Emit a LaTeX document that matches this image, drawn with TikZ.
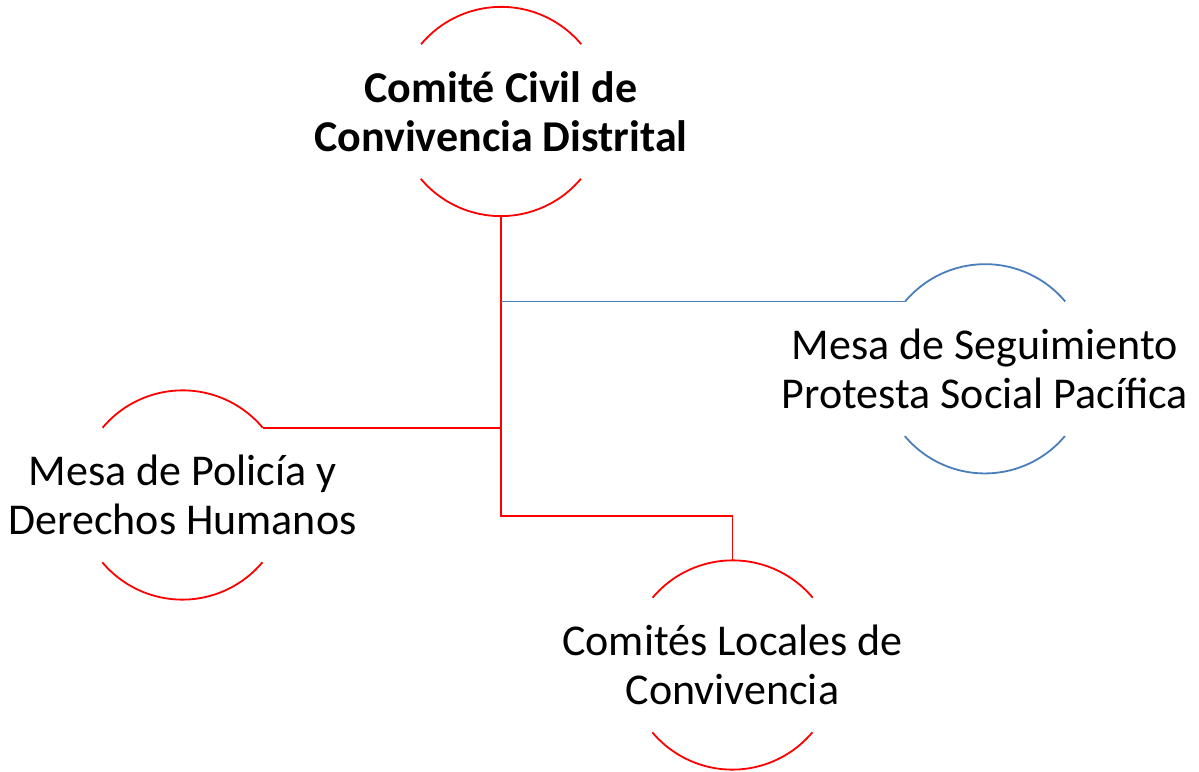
\documentclass[tikz,border=0pt]{standalone}
\usepackage{fontspec}
\setmainfont{Carlito}
\definecolor{lineblue}{RGB}{74,126,187}
\definecolor{linered}{RGB}{255,0,0}
\begin{document}
\begin{tikzpicture}[x=1pt,y=1pt,
  ring/.style={circle,minimum size=209pt,inner sep=0pt,draw=none},
  lbl/.style={align=center,font=\fontsize{44}{48.5}\selectfont,inner sep=0pt},
  redline/.style={draw=linered,line width=1.8pt},
  blueline/.style={draw=lineblue,line width=1.8pt}]
\useasboundingbox (0,0) rectangle (1199,771);
\node[ring] (top) at (501,659.5) {};
\node[ring] (blue) at (985,402.2) {};
\node[ring] (left) at (182.5,276) {};
\node[ring] (bot) at (732.5,106) {};
% arcs
\draw[redline] (top.40) arc[start angle=40,end angle=140,radius=104.5pt];
\draw[redline] (top.220) arc[start angle=220,end angle=320,radius=104.5pt];
\draw[blueline] (blue.40) arc[start angle=40,end angle=140,radius=104.5pt];
\draw[blueline] (blue.220) arc[start angle=220,end angle=320,radius=104.5pt];
\draw[redline] (left.40) arc[start angle=40,end angle=140,radius=104.5pt];
\draw[redline] (left.220) arc[start angle=220,end angle=320,radius=104.5pt];
\draw[redline] (bot.40) arc[start angle=40,end angle=140,radius=104.5pt];
\draw[redline] (bot.220) arc[start angle=220,end angle=320,radius=104.5pt];
% texts
\node[lbl,font=\fontsize{44}{48.5}\selectfont\bfseries] (toptxt) at (top) {Comité Civil de\\Convivencia Distrital};
\node[lbl] (bluetxt) at (blue) {Mesa de Seguimiento\\Protesta Social Pacífica};
\node[lbl] (lefttxt) at (left) {Mesa de Policía y\\Derechos Humanos};
\node[lbl] (bottxt) at (bot) {Comités Locales de\\Convivencia};
% connectors
\draw[redline] (top.south) -- ++(0,-300) -| (bot.north);
\draw[redline] (left.40) -- (left.40 -| top.south);
\draw[blueline] (top.south |- blue.140) -- (blue.140);
\end{tikzpicture}
\end{document}
